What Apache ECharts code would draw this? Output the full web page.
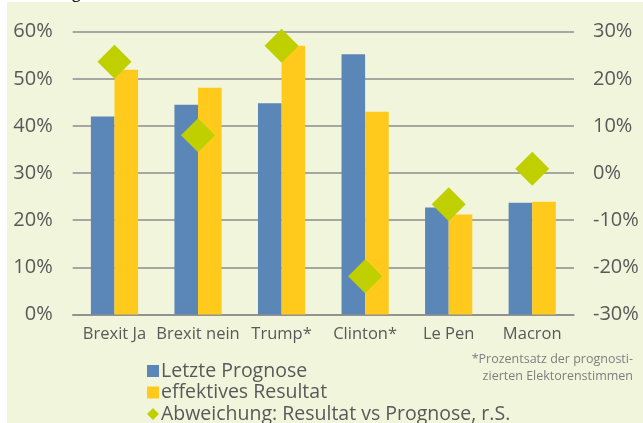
<!DOCTYPE html>
<html>
<head>
<meta charset="utf-8">
<script src="https://cdn.jsdelivr.net/npm/echarts@6/dist/echarts.min.js"></script>
<style>
html,body{margin:0;padding:0;background:#fff;}
#c{width:643px;height:423px;}
</style>
</head>
<body>
<div id="c"></div>
<script>
var categories = ['Brexit Ja', 'Brexit nein', 'Trump*', 'Clinton*', 'Le Pen', 'Macron'];
var prognose = [42.0, 44.5, 44.8, 55.2, 22.7, 23.7];
var resultat = [51.9, 48.1, 57.0, 43.0, 21.2, 23.9];
var abweichung = [23.6, 8.0, 27.0, -21.9, -6.6, 0.9];
var leftTicks = [0, 60, 10];
var rightTicks = [-30, 30, 10];

var FONT = '"Open Sans", "Noto Sans", sans-serif';
var TXT = '#595959';
var GRID = '#8c8c8c';

var chart = echarts.init(document.getElementById('c'), null, {renderer: 'canvas'});
chart.setOption({
  animation: false,
  backgroundColor: '#ffffff',
  graphic: [
    {type: 'rect', left: 7, top: 2, z: -10, shape: {width: 636, height: 421}, style: {fill: '#F1F5DC'}},
    {type: 'text', left: 72, top: -15, style: {text: 'g', fontSize: 16, fill: '#111', fontFamily: FONT}},
    {type: 'text', right: 10, top: 353, style: {text: '*Prozentsatz der prognosti-', fontSize: 12.5, fill: '#7f7f7f', fontFamily: FONT}},
    {type: 'text', right: 10, top: 370, style: {text: 'zierten Elektorenstimmen', fontSize: 12.5, fill: '#7f7f7f', fontFamily: FONT}}
  ],
  grid: {left: 72.7, right: 69, top: 31.7, bottom: 108.6, containLabel: false},
  legend: {
    orient: 'vertical', left: 147, top: 361, height: 80, itemGap: 1.5, itemWidth: 12, itemHeight: 12,
    selectedMode: false, padding: 0,
    textStyle: {fontSize: 19.5, color: TXT, fontFamily: FONT, padding: [0,0,0,-3], lineHeight: 20},
    data: [
      {name: 'Letzte Prognose', icon: 'rect'},
      {name: 'effektives Resultat', icon: 'rect'},
      {name: 'Abweichung: Resultat vs Prognose, r.S.', icon: 'diamond'}
    ]
  },
  xAxis: {
    type: 'category', data: categories,
    axisLine: {lineStyle: {color: GRID, width: 1.5}},
    axisTick: {length: 5, lineStyle: {color: GRID, width: 1.5}},
    axisLabel: {interval: 0, hideOverlap: false, fontSize: 16.5, color: TXT, fontFamily: FONT, margin: 11}
  },
  yAxis: [
    {type: 'value', min: leftTicks[0], max: leftTicks[1], interval: leftTicks[2],
     axisLine: {show: false}, axisTick: {show: false},
     axisLabel: {formatter: '{value}%', fontSize: 20, color: TXT, fontFamily: FONT, margin: 20},
     splitLine: {lineStyle: {color: GRID, width: 1.5}}},
    {type: 'value', min: rightTicks[0], max: rightTicks[1], interval: rightTicks[2], position: 'right',
     axisLine: {show: false}, axisTick: {show: false},
     axisLabel: {formatter: '{value}%', fontSize: 20, color: TXT, fontFamily: FONT, margin: 19},
     splitLine: {show: false}}
  ],
  series: [
    {name: 'Letzte Prognose', type: 'bar', data: prognose, yAxisIndex: 0,
     barGap: '0%', barCategoryGap: '43.5%', itemStyle: {color: '#5B87B8'}},
    {name: 'effektives Resultat', type: 'bar', data: resultat, yAxisIndex: 0,
     itemStyle: {color: '#FFCA1B'}},
    {name: 'Abweichung: Resultat vs Prognose, r.S.', type: 'scatter', data: abweichung, yAxisIndex: 1,
     symbol: 'diamond', symbolSize: [34, 34], z: 5, itemStyle: {color: '#BFCF00', opacity: 1}}
  ]
});
</script>
</body>
</html>
